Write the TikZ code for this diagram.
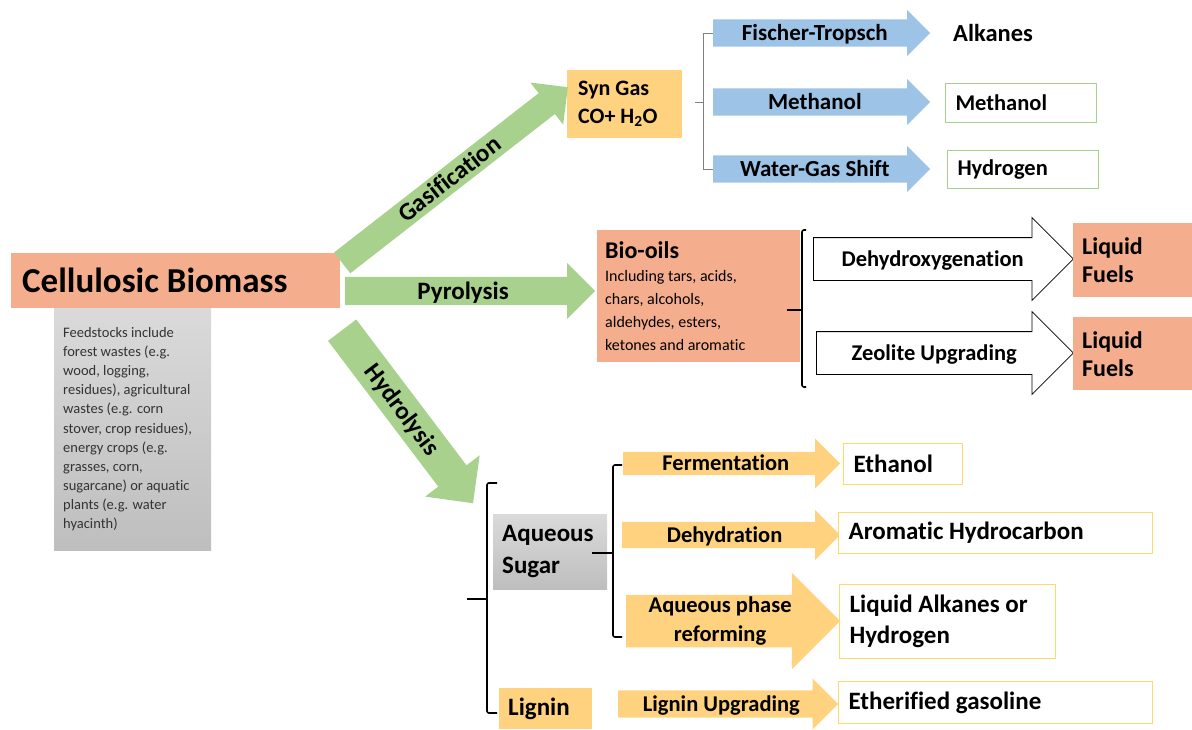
\documentclass[tikz,border=0pt]{standalone}
\usepackage{fontspec}
\setmainfont{Carlito}[Ligatures=NoCommon]
\usepackage{tikz}
\usetikzlibrary{positioning, shapes.arrows, calc}

\definecolor{salmon}{HTML}{F5AE8D}
\definecolor{leaf}{HTML}{A9D18E}
\definecolor{sky}{HTML}{9DC3E6}
\definecolor{amber}{HTML}{FFD27F}
\definecolor{lemon}{HTML}{FFD966}
\definecolor{ashtop}{HTML}{DADADA}
\definecolor{ashbot}{HTML}{BEBEBE}

\begin{document}
\begin{tikzpicture}[
    x=1pt, y=-1pt,
    box/.style={anchor=north west, align=flush left, inner ysep=0pt},
    redbox/.style={box, fill=salmon},
    greybox/.style={box, top color=ashtop, bottom color=ashbot},
    ambox/.style={box, fill=amber},
    outbox/.style={box, draw=lemon, line width=1.2pt, fill=white, font=\fontsize{25}{31}\selectfont\bfseries},
    gbox/.style={box, draw=leaf, line width=1pt, font=\fontsize{22.5}{26}\selectfont\bfseries},
    blk/.style={single arrow, single arrow head extend=#1, anchor=tail, inner ysep=0pt, inner xsep=3pt, minimum width=1pt},
    garrow/.style={blk=#1, fill=leaf, font=\fontsize{25}{28}\selectfont\bfseries},
    barrow/.style={blk=9.5pt, fill=sky, font=\fontsize{23}{26}\selectfont\bfseries},
    warrow/.style={blk=20pt, draw=black, line width=0.8pt, fill=white, font=\fontsize{22.5}{25}\selectfont\bfseries},
    oarrow/.style={blk=#1, fill=amber, font=\fontsize{22.5}{28.5}\selectfont\bfseries},
    brk/.style={line width=1.6pt, rounded corners=2pt},
    thinbrk/.style={draw=gray, line width=0.8pt}
]
    \useasboundingbox (0,0) rectangle (1192,729);

    % Feedstock
    \node[redbox, minimum width=329pt, minimum height=55pt, text width=307pt, inner xsep=11pt,
          font=\fontsize{35}{40}\selectfont\bfseries] (cb) at (11,253) {Cellulosic Biomass};
    \node[greybox, minimum width=157pt, minimum height=242pt, text width=139pt, inner xsep=9pt,
          text=black!80, font=\fontsize{14.5}{19.1}\selectfont] (feed) at (54,308)
        {Feedstocks include\\ forest wastes (e.g.\\ wood, logging,\\ residues), agricultural\\
         wastes (e.g. corn\\ stover, crop residues),\\ energy crops (e.g.\\ grasses, corn,\\
         sugarcane) or aquatic\\ plants (e.g. water\\ hyacinth)};

    % Gasification branch
    \node[ambox, minimum width=115pt, minimum height=68pt, text width=93pt, inner xsep=11pt,
          font=\fontsize{22}{28}\selectfont\bfseries] (syn) at (567,70) {Syn Gas\\ CO+ H\textsubscript{2}O};
    \node[barrow, minimum height=217pt, text height=20.8pt, text depth=6.2pt] (ft) at (713,33) {Fischer-Tropsch};
    \node[barrow, minimum height=217pt, text height=20.8pt, text depth=6.2pt] (me) at (713,102) {Methanol};
    \node[barrow, minimum height=217pt, text height=20.8pt, text depth=6.2pt] (wg) at (713,169) {Water-Gas Shift};
    \node[anchor=west, inner sep=0pt, font=\fontsize{24.5}{28}\selectfont\bfseries] (alk) at (953,33) {Alkanes};
    \node[gbox, minimum width=151pt, minimum height=39pt, text width=131pt, inner xsep=10pt] (meth) at (945,83) {Methanol};
    \node[gbox, minimum width=151pt, minimum height=38pt, text width=131pt, inner xsep=10pt] (hydg) at (947,150) {Hydrogen};

    % Pyrolysis branch
    \node[redbox, minimum width=203pt, minimum height=132pt, text width=187pt, inner xsep=8pt,
          font=\fontsize{16}{23}\selectfont] (bio) at (597,230)
        {{\fontsize{24}{27}\selectfont\bfseries Bio-oils}\\ Including tars, acids,\\ chars, alcohols,\\
         aldehydes, esters,\\ ketones and aromatic};
    \node[warrow, minimum height=260pt, text height=28.2pt, text depth=13.8pt] (dehyd) at (813,259) {Dehydroxygenation};
    \node[warrow, minimum height=257pt, text height=28.2pt, text depth=13.8pt] (zeo) at (816,353) {Zeolite Upgrading};
    \node[redbox, minimum width=119pt, minimum height=74pt, text width=101pt, inner xsep=9pt,
          font=\fontsize{24}{28}\selectfont\bfseries] (lf1) at (1073,223) {Liquid\\ Fuels};
    \node[redbox, minimum width=119pt, minimum height=73pt, text width=101pt, inner xsep=9pt,
          font=\fontsize{24}{28}\selectfont\bfseries] (lf2) at (1073,317) {Liquid\\ Fuels};

    % Hydrolysis branch
    \node[greybox, minimum width=114pt, minimum height=75pt, text width=96pt, inner xsep=9pt,
          font=\fontsize{25}{32}\selectfont\bfseries] (sugar) at (493,514) {Aqueous\\ Sugar};
    \node[ambox, minimum width=93pt, minimum height=41pt, text width=75pt, inner xsep=9pt,
          font=\fontsize{25}{30}\selectfont\bfseries] (lig) at (499,688) {Lignin};
    \node[oarrow=13.5pt, minimum height=217pt, text height=18.8pt, text depth=4.2pt] (ferm) at (623,463.5) {Fermentation};
    \node[oarrow=12pt, minimum height=218pt, text height=20.3pt, text depth=5.7pt] (dehy) at (622,535) {Dehydration};
    \node[oarrow=22pt, minimum height=214pt, align=center, inner ysep=2pt] (apr) at (626,621) {Aqueous phase\\ reforming};
    \node[oarrow=12pt, minimum height=220pt, text height=20.8pt, text depth=6.2pt] (lup) at (618,704) {Lignin Upgrading};
    \node[outbox, minimum width=119pt, minimum height=41pt, text width=99pt, inner xsep=10pt] (eth) at (843,443) {Ethanol};
    \node[outbox, minimum width=314pt, minimum height=41pt, text width=294pt, inner xsep=10pt] (aro) at (838,512) {Aromatic Hydrocarbon};
    \node[outbox, minimum width=216pt, minimum height=74pt, text width=196pt, inner xsep=10pt] (lah) at (839,584) {Liquid Alkanes or\\ Hydrogen};
    \node[outbox, minimum width=314pt, minimum height=42pt, text width=294pt, inner xsep=10pt] (gaso) at (838,681) {Etherified gasoline};

    % Green process arrows
    \node[garrow=13.5pt, minimum height=286pt, text height=21pt, text depth=5pt, rotate=37.9] (gas) at (342,263) {Gasification};
    \node[garrow=14pt, minimum height=250pt, text height=22pt, text depth=6pt] (pyr) at (345,291) {Pyrolysis};
    \node[garrow=16.5pt, minimum height=217pt, text height=25.5pt, text depth=9.5pt, rotate=-52.9] (hydro) at (342,330) {Hydrolysis};

    % Brackets
    \coordinate (bbt) at (806,230);
    \coordinate (bbb) at (806,387);
    \coordinate (bbm) at (787,310);
    \coordinate (hbt) at (497,483);
    \coordinate (hbb) at (497,713);
    \coordinate (hbm) at (467,599);
    \coordinate (sbt) at (622,465);
    \coordinate (sbb) at (622,637);
    \coordinate (sbm) at (592,553);

    \draw[thinbrk] (ft.tail) -- ++(-10,0) |- (wg.tail);
    \draw[thinbrk] ([xshift=-10pt]me.tail) -- ++(-8,0);
    \draw[brk] (bbt) -- ++(-4,0) |- (bbb);
    \draw[brk] (bbm) -- ++(15,0);
    \draw[brk] (hbt) -- ++(-10,0) |- (hbb);
    \draw[brk] (hbm) -- ++(20,0);
    \draw[brk] (sbt) -- ++(-9,0) |- (sbb);
    \draw[brk] (sbm) -- ++(21,0);
\end{tikzpicture}
\end{document}
